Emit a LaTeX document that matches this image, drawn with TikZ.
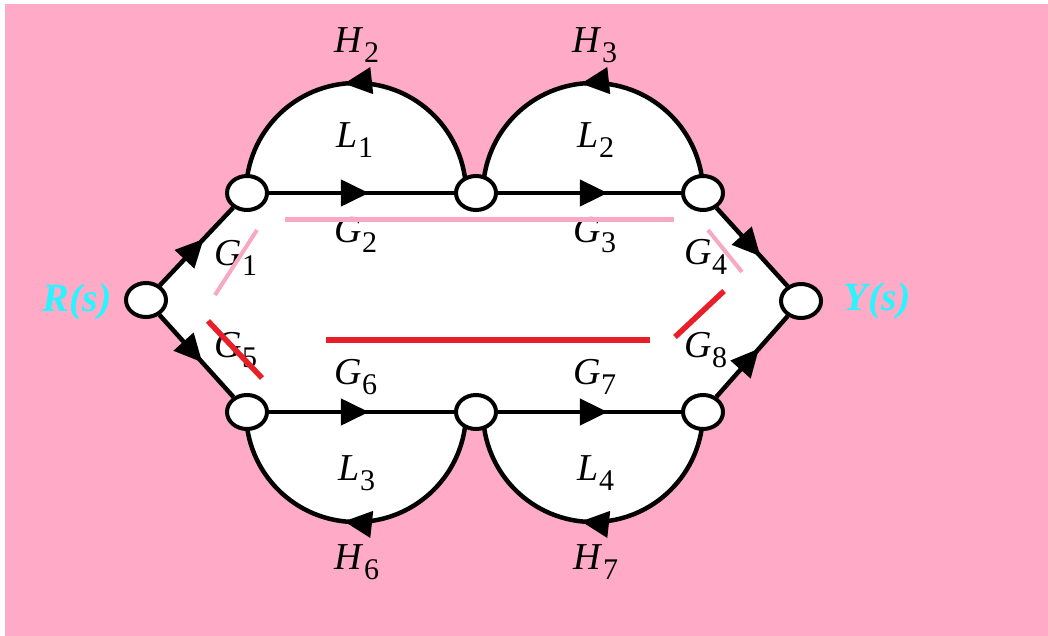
\documentclass[tikz,border=0pt]{standalone}
\usepackage{fontspec}
\setmainfont{Liberation Serif}
\usetikzlibrary{arrows.meta,decorations.markings,shapes.geometric,calc}
\pgfdeclarelayer{backzero}
\pgfdeclarelayer{backone}
\pgfsetlayers{backzero,backone,main}
\definecolor{bgpink}{RGB}{255,171,199}
\definecolor{lpink}{RGB}{248,168,196}
\definecolor{lred}{RGB}{232,30,40}
\definecolor{lcyan}{RGB}{40,245,255}
\newcommand{\lb}[2]{\textit{#1}\raisebox{-10pt}{\fontsize{30}{30}\selectfont #2}}
\begin{document}
\begin{tikzpicture}[x=1pt,y=-1pt,
  sig/.style={draw=black, fill=white, ellipse, line width=4pt, minimum width=40pt, minimum height=34pt, inner sep=0pt},
  flow/.style={line width=4.5pt, postaction={decorate, decoration={markings, mark=at position #1 with {\arrow{Triangle[length=28pt,width=26pt]}}}}},
  flow/.default=0.56,
  lab/.style={font=\fontsize{38}{38}\selectfont, inner sep=0pt},
  io/.style={font=\fontsize{40}{40}\selectfont\bfseries\itshape, text=lcyan, inner sep=0pt},
  pinkmark/.style={lpink, line width=4pt},
  redmark/.style={lred, line width=5.5pt}
]
\useasboundingbox (0,0) rectangle (1048,636);
% signal nodes
\node[sig] (R) at (146,300) {};
\node[sig] (A) at (247,193) {};
\node[sig] (B) at (476,193) {};
\node[sig] (C) at (703,193) {};
\node[sig] (Y) at (801,301) {};
\node[sig] (D) at (247,412) {};
\node[sig] (E) at (476,412) {};
\node[sig] (F) at (703,412) {};
% labels
\node[lab] (h2) at (357,45) {\lb{H}{2}};
\node[lab] (h3) at (595,45) {\lb{H}{3}};
\node[lab] (l1) at (355,140) {\lb{L}{1}};
\node[lab] (l2) at (596,140) {\lb{L}{2}};
\node[lab] (g2) at (356,235) {\lb{G}{2}};
\node[lab] (g3) at (595,235) {\lb{G}{3}};
\node[lab] (g1) at (236,258) {\lb{G}{1}};
\node[lab] (g4) at (706,257) {\lb{G}{4}};
\node[lab] (g5) at (236,350) {\lb{G}{5}};
\node[lab] (g8) at (706,350) {\lb{G}{8}};
\node[lab] (g6) at (356,377) {\lb{G}{6}};
\node[lab] (g7) at (595,377) {\lb{G}{7}};
\node[lab] (l3) at (357,473) {\lb{L}{3}};
\node[lab] (l4) at (596,473) {\lb{L}{4}};
\node[lab] (h6) at (357,562) {\lb{H}{6}};
\node[lab] (h7) at (596,562) {\lb{H}{7}};
\node[io] (rs) at (77,302) {R(s)};
\node[io] (ys) at (877,301) {Y(s)};
% coloured strokes
\draw[pinkmark, line width=5pt] (285,220) -- (674,220);
\draw[pinkmark] (257,230) -- (215,295);
\draw[pinkmark] (708,230) -- (742,272);
\draw[redmark, line width=6pt] (326,340) -- (650,340);
\draw[redmark] (208,321) -- (262,378);
\draw[redmark] (724,291) -- (675,337);
\begin{pgfonlayer}{backzero}
\fill[white] (0,0) rectangle (1048,636);
\fill[bgpink] (5,4) rectangle (1048,636);
\fill[white] (R.center) -- (A.center) -- (C.center) -- (Y.center) -- (F.center) -- (D.center) -- cycle;
\fill[white] ($(B.center)+(-10,0)$) arc[start angle=0,end angle=-180,radius=110] -- cycle;
\fill[white] (C.center) arc[start angle=0,end angle=-180,radius=110] -- cycle;
\fill[white] ($(E.center)+(-10,0)$) arc[start angle=0,end angle=180,radius=110] -- cycle;
\fill[white] (F.center) arc[start angle=0,end angle=180,radius=110] -- cycle;
\end{pgfonlayer}
\begin{pgfonlayer}{backone}
\draw[flow=0.6] (R) -- (A);
\draw[flow=0.58] (R) -- (D);
\draw[flow=0.54] (A) -- (B);
\draw[flow=0.6] (B) -- (C);
\draw[flow=0.54] (D) -- (E);
\draw[flow=0.6] (E) -- (F);
\draw[flow=0.62] (C) -- (Y);
\draw[flow=0.6] (F) -- (Y);
\draw[flow=0.535] ($(B.center)+(-10,0)$) arc[start angle=0,end angle=-180,radius=110];
\draw[flow=0.535] (C.center) arc[start angle=0,end angle=-180,radius=110];
\draw[flow=0.535] ($(E.center)+(-10,0)$) arc[start angle=0,end angle=180,radius=110];
\draw[flow=0.535] (F.center) arc[start angle=0,end angle=180,radius=110];
\end{pgfonlayer}
\end{tikzpicture}
\end{document}
